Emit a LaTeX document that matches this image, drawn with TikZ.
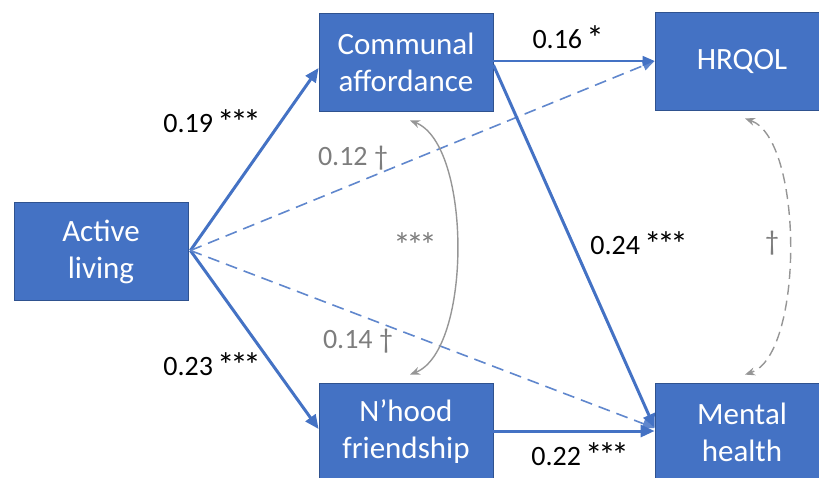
\documentclass[tikz,border=0pt]{standalone}
\usepackage{fontspec}
\setmainfont{Carlito}
\usetikzlibrary{arrows.meta,calc}
\definecolor{boxblue}{RGB}{68,114,196}
\definecolor{boxedge}{RGB}{47,82,143}
\definecolor{lblgray}{RGB}{125,125,125}
\definecolor{curvegray}{RGB}{150,150,150}
\newcommand{\onestar}{\kern-2.2pt*\kern-2.2pt}
\newcommand{\stars}[1]{{\fontsize{35}{35}\selectfont\raisebox{-1.5pt}{#1}}}
\tikzset{
  varbox/.style={rectangle, fill=boxblue, draw=boxedge, line width=0.8pt,
    minimum width=174pt, minimum height=98pt, inner sep=0pt, align=center,
    text=white, font=\fontsize{31}{37}\selectfont},
  coef/.style={font=\fontsize{28}{32}\selectfont, text=black, inner sep=0pt},
  coefgray/.style={coef, text=lblgray},
  strong/.style={draw=boxblue, line width=3pt, -{Triangle[length=14pt,width=12pt]}},
  thinpath/.style={draw=boxblue, line width=1.5pt, -{Triangle[length=12pt,width=10pt]}},
  weakpath/.style={draw=boxblue!85!white, line width=1.6pt, dash pattern=on 12pt off 7pt, -{Triangle[length=12pt,width=10pt]}},
  covsolid/.style={draw=curvegray, line width=1.4pt, {Stealth[length=10pt,width=8pt]}-{Stealth[length=10pt,width=8pt]}},
  covdash/.style={draw=curvegray, line width=1.4pt, dash pattern=on 10pt off 6pt, {Stealth[length=10pt,width=8pt]}-{Stealth[length=10pt,width=8pt]}},
}
\begin{document}
\begin{tikzpicture}[x=1pt,y=-1pt]
\useasboundingbox (0,0) rectangle (819,477);
\clip (0,0) rectangle (819,477);

\node[varbox] (al) at (101,251.5) {Active\\living};
\node[varbox] (ca) at (406,62) {Communal\\affordance};
\node[varbox] (hq) at (742,61) {HRQOL};
\node[varbox] (nf) at (406,432) {N’hood\\friendship};
\node[varbox] (mh) at (742,432) {Mental\\health};

\coordinate (alout) at ($(al.east)+(2,-1)$);
\coordinate (mhin) at ($(mh.west)+(0,-4)$);
\coordinate (mhin2) at ($(mh.west)+(0,-1)$);

\draw[strong] (alout) -- ($(ca.west)+(0,6)$);
\draw[strong] (alout) -- ($(nf.west)+(0,-3)$);
\draw[weakpath] (alout) -- (hq.west);
\draw[weakpath] (alout) -- (mhin);
\draw[thinpath] ($(ca.east)+(0,-1)$) -- (hq.west);
\draw[strong] ($(ca.east)+(0,3)$) -- (mhin);
\draw[strong] ($(nf.east)+(0,-1)$) -- (mhin2);

\coordinate (catop) at ($(ca.south)+(4,9)$);
\coordinate (nfbot) at ($(nf.north)+(4,-8)$);
\draw[covsolid] (catop) .. controls (472,145) and (472,350) .. (nfbot);
\coordinate (hqtop) at ($(hq.south)+(3,8)$);
\coordinate (mhbot) at ($(mh.north)+(3,-8)$);
\draw[covdash] (hqtop) .. controls (804,140) and (804,355) .. (mhbot);

\node[coef] (l1) at (211,122) {0.19 \stars{\onestar\onestar\onestar}};
\node[coefgray] (l2) at (353,158) {0.12 †};
\node[coef] (l3) at (567,38) {0.16 \stars{\onestar}};
\node[coef] (l4) at (638,244) {0.24 \stars{\onestar\onestar\onestar}};
\node[coef] (l5) at (211,365) {0.23 \stars{\onestar\onestar\onestar}};
\node[coefgray] (l6) at (358,341) {0.14 †};
\node[coef] (l7) at (579,455) {0.22 \stars{\onestar\onestar\onestar}};
\node[coefgray] (l8) at (415,245) {\stars{\onestar\onestar\onestar}};
\node[coefgray] (l9) at (772,243) {†};
\end{tikzpicture}
\end{document}
